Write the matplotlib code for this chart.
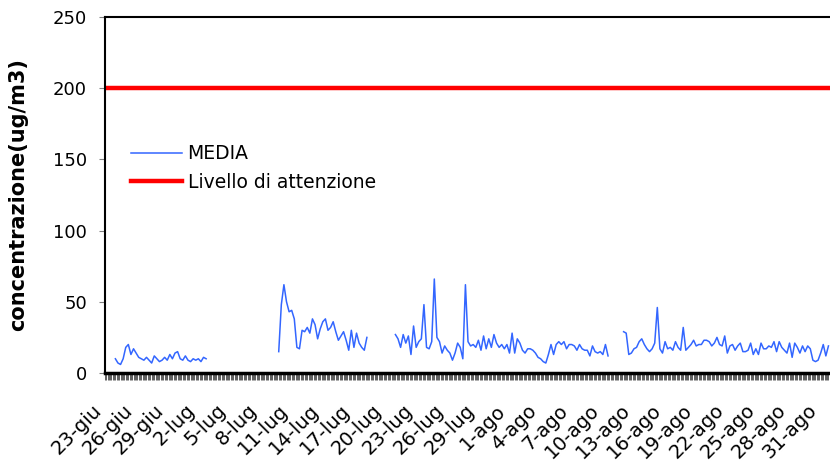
import numpy as np
import matplotlib.pyplot as plt

# giorni contati dal 23-giu, un valore ogni 6 ore
STEP = 0.25

TICK_DAYS = list(range(0, 70, 3))
TICK_LABELS = ["23-giu", "26-giu", "29-giu", "2-lug", "5-lug", "8-lug",
               "11-lug", "14-lug", "17-lug", "20-lug", "23-lug", "26-lug",
               "29-lug", "1-ago", "4-ago", "7-ago", "10-ago", "13-ago",
               "16-ago", "19-ago", "22-ago", "25-ago", "28-ago", "31-ago"]

SEG1_START = 1.0
SEG1 = [10, 7, 6, 10, 18, 20, 13, 17, 14, 11, 10, 9, 11, 9, 7, 12, 10, 8,
        9, 11, 9, 13, 10, 14, 15, 10, 9, 12, 9, 8, 10, 9, 10, 8, 11, 10]

SEG2_START = 16.75
SEG2 = [15, 48, 62, 50, 43, 44, 38, 18, 17, 30, 29, 32, 28, 38, 34, 24, 31,
        36, 38, 30, 32, 36, 29, 23, 26, 29, 23, 16, 30, 18, 28, 21, 18, 16, 25]

SEG3_START = 28.0
SEG3 = [27, 24, 18, 27, 21, 26, 13, 33, 18, 22, 24, 48, 18, 17, 22, 66, 25,
        22, 14, 19, 16, 14, 9, 14, 21, 18, 10, 62, 22, 19, 20, 18, 23, 16,
        26, 17, 24, 18, 27, 21, 18, 20, 17, 20, 14, 28, 14, 24, 21, 16, 14,
        17, 17, 16, 14, 11, 10, 8, 7, 13, 20, 13, 20, 22, 20, 22, 17, 20,
        20, 19, 16, 20, 17, 16, 16, 12, 19, 15, 14, 15, 13, 20, 12]

SEG4_START = 50.0
SEG4 = [29, 28, 13, 14, 17, 18, 22, 24, 20, 17, 15, 17, 21, 46, 17, 14, 22,
        17, 18, 16, 22, 18, 16, 32, 16, 18, 20, 23, 19, 20, 20, 23, 23, 22,
        19, 21, 25, 20, 19, 26, 14, 19, 20, 16, 19, 21, 15, 15, 16, 21, 13,
        17, 13, 21, 17, 17, 19, 18, 22, 15, 22, 18, 16, 14, 21, 11, 21, 18,
        14, 19, 15, 19, 17, 9, 8, 9, 14, 20, 12, 19]

LIMITE = 200

days = []
media = []
for start, seg in [(SEG1_START, SEG1), (SEG2_START, SEG2),
                   (SEG3_START, SEG3), (SEG4_START, SEG4)]:
    days += list(start + STEP * np.arange(len(seg)))
    media += seg
    # interruzione fra i periodi di misura
    days.append(days[-1] + STEP / 2)
    media.append(np.nan)

plt.rcParams['font.family'] = ['DejaVu Sans']

fig = plt.figure(figsize=(8.3, 4.62), dpi=100)
ax = fig.add_axes([105 / 830, 89 / 462, 725 / 830, 356 / 462])

ax.plot(days, media, color='#3366FF', lw=1.1, label='MEDIA')
ax.axhline(LIMITE, color='#FF0000', lw=3.2, label='Livello di attenzione')

ax.set_xlim(0.2, 69.9)
ax.set_ylim(0, 250)
ax.set_yticks([0, 50, 100, 150, 200, 250])
ax.tick_params(axis='y', labelsize=13, length=4, color='#808080', pad=9)

ax.set_xticks(TICK_DAYS)
ax.set_xticklabels(TICK_LABELS, rotation=45, ha='right', fontsize=14)
ax.set_xticks(np.arange(0, 70, 1 / 8), minor=True)
ax.tick_params(axis='x', which='both', length=5, width=0.5, color='#202020')
ax.tick_params(axis='x', which='major', pad=15)

ax.set_ylabel('concentrazione(ug/m3)', fontsize=15, fontweight='bold')
ax.yaxis.set_label_coords(-0.106, 0.5)

ax.spines['right'].set_visible(False)
ax.spines['bottom'].set_linewidth(2.5)
ax.spines['top'].set_linewidth(1.5)
ax.spines['left'].set_linewidth(1.5)

ax.legend(loc='upper left', bbox_to_anchor=(0.013, 0.69), frameon=False,
          fontsize=13.5, handlelength=2.7, handletextpad=0.3, labelspacing=0.5)

fig.savefig('out.png', dpi=100)
